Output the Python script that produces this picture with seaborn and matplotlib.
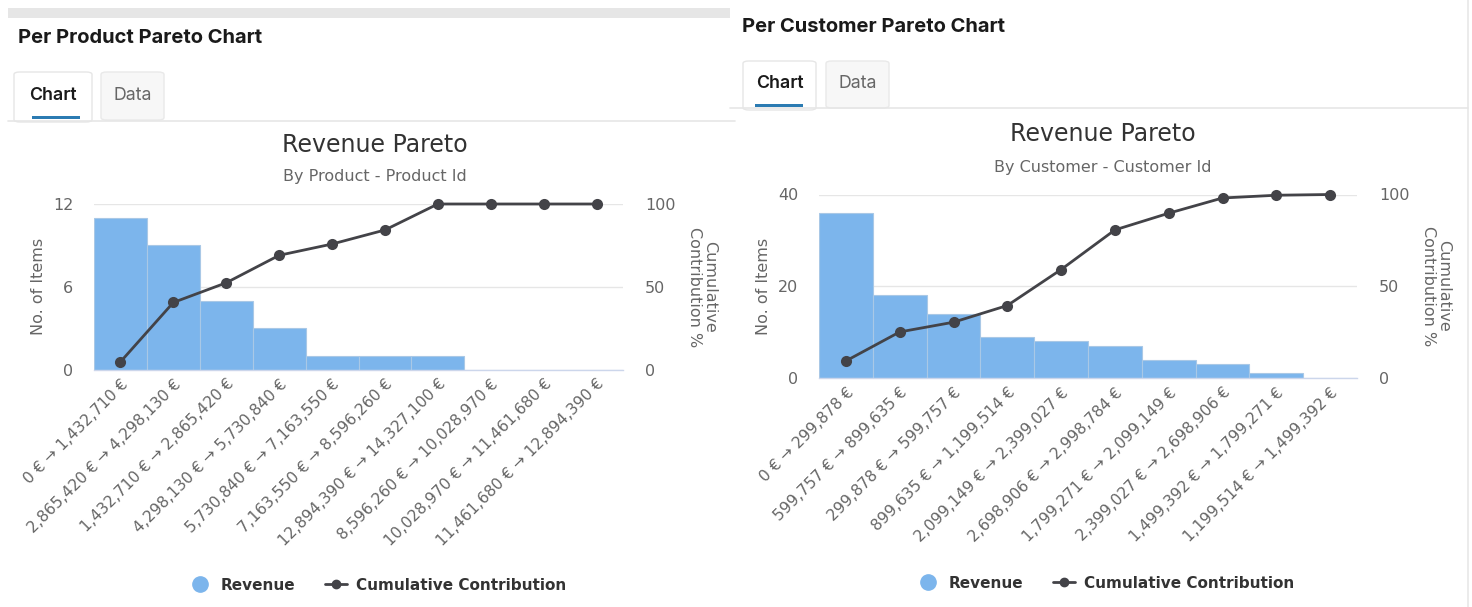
import matplotlib
matplotlib.use("Agg")
import matplotlib.pyplot as plt
import seaborn as sns
import pandas as pd
from matplotlib.patches import Rectangle, FancyBboxPatch
from matplotlib.lines import Line2D

# ---------------- data ----------------
product_bins = ["0 € → 1,432,710 €", "2,865,420 € → 4,298,130 €", "1,432,710 € → 2,865,420 €",
                "4,298,130 € → 5,730,840 €", "5,730,840 € → 7,163,550 €", "7,163,550 € → 8,596,260 €",
                "12,894,390 € → 14,327,100 €", "8,596,260 € → 10,028,970 €",
                "10,028,970 € → 11,461,680 €", "11,461,680 € → 12,894,390 €"]
product_items = [11, 9, 5, 3, 1, 1, 1, 0, 0, 0]
product_cum = [4.6, 40.5, 52.4, 69, 75.8, 84.3, 100, 100, 100, 100]

customer_bins = ["0 € → 299,878 €", "599,757 € → 899,635 €", "299,878 € → 599,757 €",
                 "899,635 € → 1,199,514 €", "2,099,149 € → 2,399,027 €", "2,698,906 € → 2,998,784 €",
                 "1,799,271 € → 2,099,149 €", "2,399,027 € → 2,698,906 €",
                 "1,499,392 € → 1,799,271 €", "1,199,514 € → 1,499,392 €"]
customer_items = [36, 18, 14, 9, 8, 7, 4, 3, 1, 0]
customer_cum = [9.3, 25.1, 30.4, 39.5, 59.1, 80.7, 89.8, 98.1, 99.6, 100]

left_ticks = [[0, 6, 12], [0, 20, 40]]
right_ticks = [0, 50, 100]

# ---------------- style ----------------
W, H = 1472, 607
sns.set_theme(style="white")
plt.rcParams["font.family"] = ["DejaVu Sans"]

BAR = "#7cb5ec"
LINE = "#434348"
GRID = "#e6e6e6"
TXT = "#666666"

fig = plt.figure(figsize=(W / 100, H / 100), dpi=100)
fig.patch.set_facecolor("white")


def fx(x):
    return x / W


def fy(y):
    return 1 - y / H


def rect(x0, y0, x1, y1, **kw):
    fig.patches.append(Rectangle((fx(x0), fy(y1)), fx(x1) - fx(x0), fy(y0) - fy(y1),
                                 transform=fig.transFigure, figure=fig, **kw))


def hline(x0, x1, y, color, lw=1.0):
    fig.lines.append(Line2D([fx(x0), fx(x1)], [fy(y), fy(y)], transform=fig.transFigure,
                            color=color, lw=lw, figure=fig))


def tab(x0, y0, x1, y1, face, edge):
    p = FancyBboxPatch((fx(x0), fy(y1)), fx(x1) - fx(x0), fy(y0) - fy(y1),
                       boxstyle="round,pad=0,rounding_size=0.004", transform=fig.transFigure,
                       facecolor=face, edgecolor=edge, lw=1.0, figure=fig)
    fig.patches.append(p)


# ---------------- page chrome ----------------
rect(8, 8, 730, 18, facecolor="#e6e6e6", edgecolor="none")
fig.lines.append(Line2D([fx(1468), fx(1468)], [0, 1], transform=fig.transFigure,
                        color="#e8e8e8", lw=1.2, figure=fig))

panels = [
    dict(header="Per Product Pareto Chart", hx=18, hy=38, tab_y0=72, tab_y1=121,
         chart_tab=(14, 92), data_tab=(101, 164), ul=(32, 80), line_x=(8, 735),
         cx=375, title_y=145, sub_y=177, sub="By Product - Product Id",
         ax=(94, 623, 204, 369.5), cats=product_bins, items=product_items, cum=product_cum,
         lt=left_ticks[0], leg_y=585),
    dict(header="Per Customer Pareto Chart", hx=742, hy=27, tab_y0=61, tab_y1=109,
         chart_tab=(743, 816), data_tab=(826, 889), ul=(755, 803), line_x=(730, 1468),
         cx=1103, title_y=134, sub_y=168, sub="By Customer - Customer Id",
         ax=(819, 1357, 194.5, 378), cats=customer_bins, items=customer_items, cum=customer_cum,
         lt=left_ticks[1], leg_y=583),
]

for p in panels:
    fig.text(fx(p["hx"]), fy(p["hy"]), p["header"], fontsize=14.5, fontweight="bold",
             family=["Inter", "DejaVu Sans"], color="#1a1a1a", ha="left", va="center")
    y0, y1 = p["tab_y0"], p["tab_y1"]
    hline(p["line_x"][0], p["line_x"][1], y1 - 0.5, "#e6e6e6", 1.2)
    tab(p["data_tab"][0], y0, p["data_tab"][1], y1 - 1, "#f7f7f7", "#e9e9e9")
    tab(p["chart_tab"][0], y0, p["chart_tab"][1], y1 + 1, "white", "#e6e6e6")
    rect(p["ul"][0], y1 - 5, p["ul"][1], y1 - 2.5, facecolor="#2b7bb2", edgecolor="none")
    tcy = (y0 + y1) / 2 - 1
    fig.text(fx((p["chart_tab"][0] + p["chart_tab"][1]) / 2), fy(tcy), "Chart", fontsize=12.8,
             fontweight="semibold", family=["Inter", "DejaVu Sans"], color="#1a1a1a",
             ha="center", va="center")
    fig.text(fx((p["data_tab"][0] + p["data_tab"][1]) / 2), fy(tcy), "Data", fontsize=12.8,
             family=["Inter", "DejaVu Sans"], color="#666666", ha="center", va="center")

    # chart titles
    fig.text(fx(p["cx"]), fy(p["title_y"]), "Revenue Pareto", fontsize=17, color="#333333",
             ha="center", va="center")
    fig.text(fx(p["cx"]), fy(p["sub_y"]), p["sub"], fontsize=11.5, color=TXT,
             ha="center", va="center")

    # axes
    l, r, t, b = p["ax"]
    ax = fig.add_axes([fx(l), fy(b), fx(r) - fx(l), fy(t) - fy(b)])
    df = pd.DataFrame({"bin": p["cats"], "items": p["items"], "cum": p["cum"]})
    sns.barplot(data=df, x="bin", y="items", ax=ax, color=BAR, saturation=1, width=1.0,
                edgecolor="#a9c8e6", linewidth=0.8, zorder=2)
    ax.set_ylim(0, p["lt"][-1])
    ax.set_xlim(-0.5, len(p["cats"]) - 0.5)
    ax.set_yticks(p["lt"])
    ax.set_yticklabels([str(v) for v in p["lt"]])
    for v in p["lt"][1:]:
        ax.axhline(v, color=GRID, lw=1.0, zorder=0)
    for s in ["top", "right", "left"]:
        ax.spines[s].set_visible(False)
    ax.spines["bottom"].set_color("#ccd6eb")
    ax.spines["bottom"].set_linewidth(1.0)
    ax.tick_params(axis="y", length=0, labelsize=11.5, labelcolor=TXT, pad=15)
    ax.tick_params(axis="x", length=0, labelsize=11.2, labelcolor=TXT, pad=5)
    ax.set_xticks(range(len(p["cats"])))
    ax.set_xticklabels(p["cats"], rotation=45, ha="right", va="top", rotation_mode="anchor")
    ax.set_xlabel("")
    ax.set_ylabel("No. of Items", fontsize=11.5, color=TXT, labelpad=5)
    ax.patch.set_alpha(0)

    ax2 = ax.twinx()
    sns.pointplot(data=df, x="bin", y="cum", ax=ax2, color=LINE, markers="o",
                  markersize=6.5, linewidth=2.0)
    for c in ax2.collections + ax2.lines:
        c.set_clip_on(False)
    ax2.set_ylim(0, 100)
    ax2.set_xlim(-0.5, len(p["cats"]) - 0.5)
    ax2.set_yticks(right_ticks)
    ax2.set_yticklabels([str(v) for v in right_ticks])
    ax2.tick_params(axis="y", length=0, labelsize=11.5, labelcolor=TXT, pad=16)
    for s in ["top", "right", "left", "bottom"]:
        ax2.spines[s].set_visible(False)
    ax2.set_ylabel("Cumulative\nContribution %", fontsize=11.5, color=TXT, rotation=270,
                   labelpad=30, linespacing=1.0)
    ax2.set_xlabel("")
    ax2.xaxis.set_visible(False)

    handles = [Line2D([], [], marker="o", color=BAR, lw=0, markersize=11),
               Line2D([], [], marker="o", color=LINE, lw=2, markersize=6)]
    fig.legend(handles, ["Revenue", "Cumulative Contribution"], loc="center",
               bbox_to_anchor=(fx(p["cx"] + 3), fy(p["leg_y"])), ncol=2, frameon=False,
               prop=dict(size=11, weight="bold"), labelcolor="#333333",
               handlelength=1.4, columnspacing=2.0, handletextpad=0.6)

fig.savefig("out.png", dpi=100, facecolor="white")
